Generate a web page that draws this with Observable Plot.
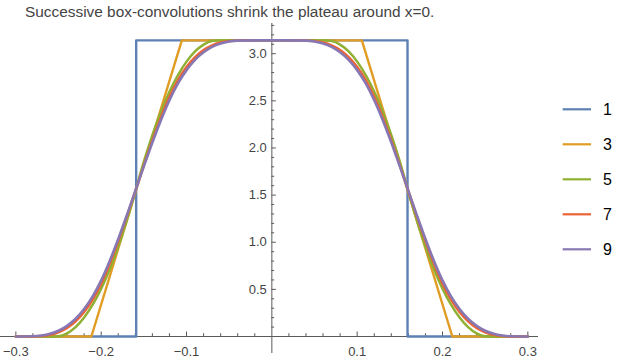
<!DOCTYPE html>
<html><head><meta charset="utf-8">
<script src="https://cdn.jsdelivr.net/npm/d3@7"></script>
<script src="https://cdn.jsdelivr.net/npm/@observablehq/plot@0.6"></script>
<style>
body{margin:0;background:#fff;font-family:"Liberation Sans",Arial,sans-serif}
#wrap{position:relative;width:621px;height:360px;overflow:hidden}
#overlay{position:absolute;left:0;top:0;pointer-events:none}
</style></head>
<body><div id="wrap"><div id="chart"></div><svg id="overlay" width="621" height="360"></svg></div>
<script>
const title = "Successive box-convolutions shrink the plateau around x=0.";
const seriesLabels = ["1", "3", "5", "7", "9"];
const seriesColors = ["#5E81B5", "#E19C24", "#8FB032", "#EB6235", "#8778B3"];

const xBox = [-0.30, -0.159, -0.159, 0.159, 0.159, 0.30];
const yBox = [0, 0, 3.1416, 3.1416, 0, 0];

const xTrap = [-0.30, -0.2115, -0.1055, 0.1055, 0.2115, 0.30];
const yTrap = [0, 0, 3.1416, 3.1416, 0, 0];

const xSmooth = [-0.30,-0.28,-0.27,-0.26,-0.25,-0.24,-0.23,-0.22,-0.21,-0.20,-0.19,-0.18,-0.17,-0.16,-0.15,-0.14,-0.13,-0.12,-0.11,-0.10,-0.09,-0.08,-0.07,-0.06,-0.05,-0.04,-0.02,0,
  0.02,0.04,0.05,0.06,0.07,0.08,0.09,0.10,0.11,0.12,0.13,0.14,0.15,0.16,0.17,0.18,0.19,0.20,0.21,0.22,0.23,0.24,0.25,0.26,0.27,0.28,0.30];

const y5 = [0,0,0,0,0.003,0.034,0.100,0.201,0.337,0.508,0.713,0.953,1.228,1.538,1.854,2.136,2.383,2.596,2.773,2.916,3.024,3.097,3.135,3.142,3.142,3.142,3.142,3.142,
  3.142,3.142,3.142,3.142,3.135,3.097,3.024,2.916,2.773,2.596,2.383,2.136,1.854,1.538,1.228,0.953,0.713,0.508,0.337,0.201,0.100,0.034,0.003,0,0,0,0];

const y7 = [0,0,0.005,0.018,0.045,0.091,0.161,0.259,0.391,0.561,0.771,1.011,1.272,1.543,1.816,2.080,2.325,2.542,2.720,2.859,2.964,3.039,3.089,3.119,3.135,3.141,3.142,3.142,
  3.142,3.141,3.135,3.119,3.089,3.039,2.964,2.859,2.720,2.542,2.325,2.080,1.816,1.543,1.272,1.011,0.771,0.561,0.391,0.259,0.161,0.091,0.045,0.018,0.005,0,0];

const y9 = [0,0.002,0.010,0.028,0.061,0.113,0.188,0.291,0.426,0.596,0.802,1.034,1.285,1.545,1.805,2.058,2.295,2.507,2.685,2.826,2.935,3.015,3.072,3.108,3.129,3.139,3.142,3.142,
  3.142,3.139,3.129,3.108,3.072,3.015,2.935,2.826,2.685,2.507,2.295,2.058,1.805,1.545,1.285,1.034,0.802,0.596,0.426,0.291,0.188,0.113,0.061,0.028,0.010,0.002,0];

const xTickLabels = [-0.3, -0.2, -0.1, 0.1, 0.2, 0.3];
const yTickLabels = [0.5, 1.0, 1.5, 2.0, 2.5, 3.0];

const xMinorTicks = d3.range(-15, 16).filter(k => k !== 0 && k % 5 !== 0).map(k => k * 0.02);
const xMajorTicks = xTickLabels;
const yMinorTicks = d3.range(1, 34).filter(k => k % 5 !== 0).map(k => k * 0.1);
const yMajorTicks = yTickLabels;

const toRows = (xs, ys) => xs.map((x, i) => ({x, y: ys[i]}));
const series = [
  {rows: toRows(xBox, yBox), curve: "linear", w: 2.4},
  {rows: toRows(xTrap, yTrap), curve: "linear", w: 2.4},
  {rows: toRows(xSmooth, y5), curve: "monotone-x", w: 2.5},
  {rows: toRows(xSmooth, y7), curve: "monotone-x", w: 2.5},
  {rows: toRows(xSmooth, y9), curve: "monotone-x", w: 2.6}
];

const axisColor = "#5a5a5a";
const fmt = d => (d < 0 ? "\u2212" : "") + Math.abs(d).toFixed(1);

const chart = Plot.plot({
  width: 621, height: 360,
  marginLeft: 0, marginRight: 83, marginTop: 23, marginBottom: 24,
  x: {domain: [-0.318, 0.3125], axis: null},
  y: {domain: [0, 3.3205], axis: null},
  style: {fontFamily: "'Liberation Sans', Arial, sans-serif", fontSize: "13px", background: "white", overflow: "visible"},
  marks: [
    Plot.ruleY([0], {stroke: axisColor, strokeWidth: 1}),
    Plot.ruleX([0], {stroke: axisColor, strokeWidth: 1, insetBottom: -17}),
    Plot.ruleX(xMinorTicks, {x: d => d, y1: 0, y2: 0, insetTop: -2.8, stroke: axisColor}),
    Plot.ruleX(xMajorTicks, {x: d => d, y1: 0, y2: 0, insetTop: -4.5, stroke: axisColor}),
    Plot.ruleY(yMinorTicks, {y: d => d, x1: 0, x2: 0, insetRight: -2.8, stroke: axisColor}),
    Plot.ruleY(yMajorTicks, {y: d => d, x1: 0, x2: 0, insetRight: -4.5, stroke: axisColor}),
    Plot.text(xTickLabels, {x: d => d, y: 0, dy: 15, text: fmt, fill: "#444", fontSize: 13}),
    Plot.text(yTickLabels, {x: 0, y: d => d, dx: -5, textAnchor: "end", text: fmt, fill: "#444", fontSize: 13}),
    ...series.map((s, i) => Plot.line(s.rows, {x: "x", y: "y", stroke: seriesColors[i], strokeWidth: s.w, curve: s.curve}))
  ]
});
document.getElementById("chart").appendChild(chart);

const ov = d3.select("#overlay");
ov.append("text").attr("x", 25).attr("y", 17).attr("font-size", 15.4).attr("fill", "#444")
  .attr("font-family", "'Liberation Sans', Arial, sans-serif").text(title);
seriesLabels.forEach((lab, i) => {
  const cy = 109.3 + i * 35;
  ov.append("line").attr("x1", 562.7).attr("x2", 591).attr("y1", cy).attr("y2", cy)
    .attr("stroke", seriesColors[i]).attr("stroke-width", 2.2);
  ov.append("text").attr("x", 603).attr("y", cy).attr("dy", "0.36em")
    .attr("font-size", 16).attr("fill", "#000")
    .attr("font-family", "'Liberation Sans', Arial, sans-serif").text(lab);
});
</script>
</body></html>
